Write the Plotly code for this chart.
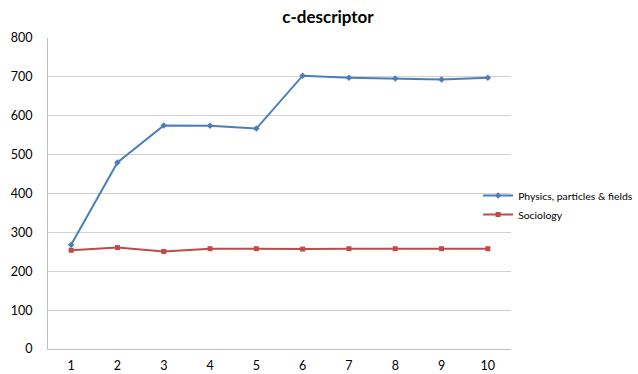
import plotly.graph_objects as go

# Data
runs = [1, 2, 3, 4, 5, 6, 7, 8, 9, 10]
physics = [268, 480, 575, 574, 567, 703, 698, 696, 693, 698]
sociology = [254, 261, 251, 258, 258, 257, 258, 258, 258, 258]
y_ticks = [0, 100, 200, 300, 400, 500, 600, 700, 800]

FONT = "Lato, 'Open Sans', sans-serif"

fig = go.Figure()
fig.add_trace(go.Scatter(
    x=runs, y=physics, name="Physics, particles & fields",
    mode="lines+markers",
    line=dict(color="#4a7ebb", width=2),
    marker=dict(symbol="diamond", size=5, color="#4a7ebb"),
))
fig.add_trace(go.Scatter(
    x=runs, y=sociology, name="Sociology",
    mode="lines+markers",
    line=dict(color="#be4b48", width=2),
    marker=dict(symbol="square", size=5, color="#be4b48"),
))

fig.update_layout(
    width=638, height=374,
    margin=dict(l=48, r=127, t=38, b=25, autoexpand=False),
    paper_bgcolor="white", plot_bgcolor="white",
    title=dict(text="<b>c-descriptor</b>", x=328 / 638, xanchor="center",
               y=1 - 17 / 374, yanchor="middle",
               font=dict(family=FONT, size=17, color="black")),
    font=dict(family=FONT, size=12, color="black"),
    showlegend=True,
    legend=dict(x=0.929, xanchor="left", y=0.54, yanchor="top",
                bgcolor="rgba(0,0,0,0)", itemwidth=30,
                tracegroupgap=0,
                font=dict(family=FONT, size=10.4, color="black")),
)
fig.update_xaxes(
    range=[0.5, 10.5], tickvals=runs, ticktext=[str(r) for r in runs],
    showgrid=False, showline=True, linecolor="#bfbfbf", linewidth=1,
    ticks="", zeroline=False, tickfont=dict(size=12.5),
    automargin=False, ticklabelstandoff=5,
)
fig.update_yaxes(
    range=[0, 800], tickvals=y_ticks,
    showgrid=True, gridcolor="#d0d0d0", gridwidth=1,
    showline=True, linecolor="#bfbfbf", linewidth=1,
    ticks="", zeroline=False, tickfont=dict(size=12.5),
    automargin=False, ticklabelstandoff=12,
)

fig.write_html("out.html")
